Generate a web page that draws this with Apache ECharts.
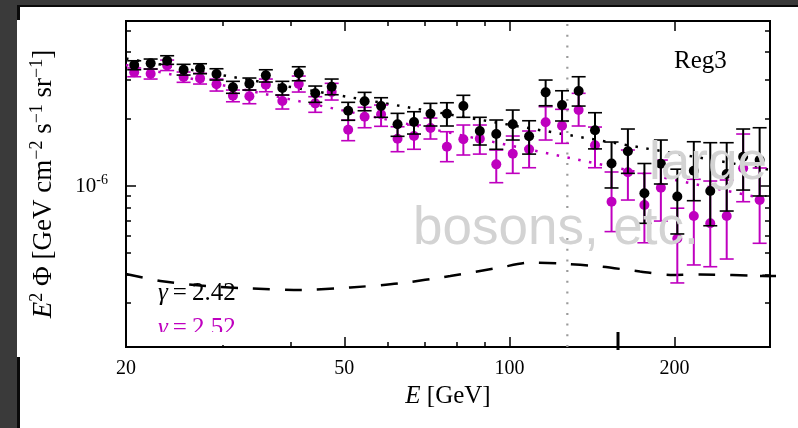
<!DOCTYPE html>
<html>
<head>
<meta charset="utf-8">
<script src="https://cdn.jsdelivr.net/npm/echarts@6/dist/echarts.min.js"></script>
<style>
  html, body { margin: 0; padding: 0; background: #fff; }
  #chart { width: 798px; height: 428px; }
</style>
</head>
<body>
<div id="chart"></div>
<script>
// Flux values are given in units of 1e-6 GeV cm^-2 s^-1 sr^-1
const UNIT = 1e-6;

// Bin energies [GeV]
const energies = [20.70, 22.18, 23.77, 25.47, 27.29, 29.24, 31.33, 33.57, 35.97, 38.55,
  41.30, 44.26, 47.42, 50.82, 54.45, 58.34, 62.52, 66.99, 71.78, 76.91,
  82.41, 88.31, 94.62, 101.4, 108.6, 116.4, 124.7, 133.7, 143.2, 153.5,
  164.4, 176.2, 188.8, 202.3, 216.8, 232.3, 248.9, 266.7, 285.8];

// gamma = 2.42 spectrum (black)
const fluxA = [3.494, 3.556, 3.652, 3.328, 3.377, 3.184, 2.775, 2.880, 3.141, 2.754,
  3.207, 2.608, 2.792, 2.178, 2.401, 2.286, 1.893, 1.938, 2.112, 2.112,
  2.286, 1.766, 1.712, 1.893, 1.672, 2.634, 2.310, 2.670, 1.779, 1.262,
  1.433, 0.928, 1.259, 0.897, 1.171, 0.950, 1.132, 1.354, 1.308];
const lowA = [3.328, 3.353, 3.520, 3.150, 3.194, 2.992, 2.608, 2.698, 2.931, 2.562,
  2.970, 2.376, 2.570, 1.973, 2.178, 2.035, 1.672, 1.712, 1.860, 1.860,
  2.035, 1.528, 1.462, 1.609, 1.391, 2.294, 1.959, 2.286, 1.468, 0.980,
  1.140, 0.680, 1.021, 0.609, 0.859, 0.663, 0.772, 0.959, 0.902];
const highA = [3.652, 3.718, 3.847, 3.520, 3.541, 3.363, 2.952, 3.055, 3.328, 2.952,
  3.433, 2.812, 3.023, 2.376, 2.634, 2.492, 2.120, 2.156, 2.351, 2.366,
  2.555, 2.035, 1.979, 2.194, 1.964, 2.992, 2.678, 3.096, 2.134, 1.576,
  1.803, 1.262, 1.609, 1.190, 1.581, 1.565, 1.565, 1.803, 1.827];

// gamma = 2.52 spectrum (magenta)
const fluxB = [3.240, 3.194, 3.477, 3.085, 3.044, 2.862, 2.544, 2.528, 2.850, 2.408,
  2.871, 2.351, 2.643, 1.790, 2.048, 2.099, 1.631, 1.677, 1.821, 1.501,
  1.621, 1.631, 1.251, 1.396, 1.462, 1.932, 1.866, 2.194, 1.523, 0.850,
  1.152, 0.822, 0.983, 0.581, 0.733, 0.680, 0.733, 1.201, 0.865];
const lowB = [3.096, 3.023, 3.301, 2.922, 2.871, 2.670, 2.390, 2.342, 2.651, 2.217,
  2.643, 2.143, 2.433, 1.598, 1.827, 1.854, 1.426, 1.462, 1.626, 1.286,
  1.378, 1.391, 1.035, 1.140, 1.208, 1.609, 1.555, 1.860, 1.208, 0.624,
  0.865, 0.556, 0.696, 0.367, 0.442, 0.434, 0.470, 0.850, 0.553];
const highB = [3.390, 3.353, 3.679, 3.250, 3.207, 3.023, 2.698, 2.698, 3.023, 2.562,
  3.118, 2.518, 2.892, 1.979, 2.257, 2.310, 1.846, 1.879, 2.020, 1.753,
  1.879, 1.879, 1.451, 1.677, 1.766, 2.271, 2.210, 2.608, 1.840, 1.156,
  1.451, 1.140, 1.308, 0.795, 1.072, 1.053, 1.064, 1.712, 1.205];

// Power-law fits (end points)
const fitEnergies = [20, 298.5];
const fitA = [3.737, 1.182];
const fitB = [3.494, 0.867];

// Background model (dashed)
const bgEnergies = [20.0, 23.1, 27.3, 33.7, 41.6, 51.3, 63.2, 78.0, 96.2, 109.1,
  123.7, 146.3, 173.0, 196.3, 222.6, 298.5];
const bgFlux = [0.4026, 0.3746, 0.3574, 0.3465, 0.3411, 0.3501, 0.3657, 0.3944, 0.4306, 0.4533,
  0.4487, 0.4350, 0.4131, 0.3985, 0.4005, 0.3944];

// Line energy marker [GeV]
const lineEnergy = 127.5;

// Axis ranges and ticks
const xRange = [20, 298.5];
const yRange = [0.1892 * UNIT, 5.51 * UNIT];
const xMajor = [20, 50, 100, 200];
const xMinor = [30, 40, 60, 70, 80, 90];
const yMajor = [1e-6];
const yMinor = [3e-7, 4e-7, 5e-7, 6e-7, 7e-7, 8e-7, 9e-7, 2e-6, 3e-6, 4e-6, 5e-6];

const legendA = 'γ=2.42';
const legendB = 'γ=2.52';
const regionLabel = 'Reg3';
const overlayLines = ['large', 'bosons, etc.'];

const BLACK = '#000000';
const MAGENTA = '#bf00bf';
const SERIF = '"Liberation Serif", "DejaVu Serif", serif';
const SANS = '"Liberation Sans", Arial, sans-serif';

const chart = echarts.init(document.getElementById('chart'), null, { renderer: 'canvas' });

function xAxisDef(position, ticks, len, withLabels) {
  return {
    type: 'log', logBase: 10, position: position,
    min: xRange[0], max: xRange[1],
    axisLine: { show: false, onZero: false },
    splitLine: { show: false },
    minorTick: { show: false },
    axisTick: { show: true, inside: true, length: len, customValues: ticks,
      lineStyle: { color: BLACK, width: 1.5 } },
    axisLabel: withLabels ? {
      show: true, customValues: xMajor, margin: 12,
      formatter: v => String(Math.round(v)),
      fontFamily: SERIF, fontSize: 20, color: BLACK
    } : { show: false },
    name: withLabels ? '{it|E} [GeV]' : '',
    nameLocation: 'middle', nameGap: 36,
    nameTextStyle: { fontFamily: SERIF, fontSize: 25, color: BLACK,
      rich: { it: { fontFamily: SERIF, fontSize: 25, fontStyle: 'italic', color: BLACK } } }
  };
}

function yAxisDef(position, ticks, len, withLabels) {
  return {
    type: 'log', logBase: 10, position: position,
    min: yRange[0], max: yRange[1],
    axisLine: { show: false, onZero: false },
    splitLine: { show: false },
    minorTick: { show: false },
    axisTick: { show: true, inside: true, length: len, customValues: ticks,
      lineStyle: { color: BLACK, width: 1.5 } },
    axisLabel: withLabels ? {
      show: true, customValues: yMajor, margin: 18,
      formatter: v => '10{s|' + String(Math.round(Math.log10(v))) + '}',
      fontFamily: SERIF, fontSize: 21, color: BLACK, lineHeight: 26,
      rich: { s: { fontFamily: SERIF, fontSize: 14, verticalAlign: 'top', color: BLACK } }
    } : { show: false },
    name: withLabels ? '{it|E}{sup|2} Φ [GeV cm{sup|−2} s{sup|−1} sr{sup|−1}]' : '',
    nameLocation: 'middle', nameRotate: 90, nameGap: 66,
    nameTextStyle: { fontFamily: SERIF, fontSize: 27, color: BLACK, lineHeight: 32,
      rich: {
        it: { fontFamily: SERIF, fontSize: 27, fontStyle: 'italic', color: BLACK, lineHeight: 32 },
        sup: { fontFamily: SERIF, fontSize: 18, verticalAlign: 'top', color: BLACK }
      } }
  };
}

function errorBars(color, capHalf) {
  return function (params, api) {
    const e = api.value(0);
    const lo = api.coord([e, api.value(1)]);
    const hi = api.coord([e, api.value(2)]);
    return {
      type: 'group',
      children: [
        { type: 'line', shape: { x1: lo[0], y1: lo[1], x2: hi[0], y2: hi[1] },
          style: { stroke: color, lineWidth: 2 } },
        { type: 'line', shape: { x1: lo[0] - capHalf, y1: lo[1], x2: lo[0] + capHalf, y2: lo[1] },
          style: { stroke: color, lineWidth: 1.6 } },
        { type: 'line', shape: { x1: hi[0] - capHalf, y1: hi[1], x2: hi[0] + capHalf, y2: hi[1] },
          style: { stroke: color, lineWidth: 1.6 } }
      ]
    };
  };
}

const barsA = energies.map((e, i) => [e, lowA[i] * UNIT, highA[i] * UNIT]);
const barsB = energies.map((e, i) => [e, lowB[i] * UNIT, highB[i] * UNIT]);
const ptsA = energies.map((e, i) => [e, fluxA[i] * UNIT]);
const ptsB = energies.map((e, i) => [e, fluxB[i] * UNIT]);
const fitLineA = fitEnergies.map((e, i) => [e, fitA[i] * UNIT]);
const fitLineB = fitEnergies.map((e, i) => [e, fitB[i] * UNIT]);
const bgLine = bgEnergies.map((e, i) => [e, bgFlux[i] * UNIT]);
const markerLine = [[lineEnergy, yRange[0]], [lineEnergy, yRange[1]]];

const option = {
  animation: false,
  backgroundColor: '#ffffff',
  grid: { left: 126, top: 21, width: 644, height: 326, show: true,
    borderColor: BLACK, borderWidth: 2, backgroundColor: 'transparent',
    containLabel: false, outerBoundsMode: 'none' },
  xAxis: [
    xAxisDef('bottom', xMajor, 10, true),
    xAxisDef('bottom', xMinor, 5, false),
    xAxisDef('top', xMajor, 10, false),
    xAxisDef('top', xMinor, 5, false)
  ],
  yAxis: [
    yAxisDef('left', yMajor, 10, true),
    yAxisDef('left', yMinor, 5, false),
    yAxisDef('right', yMajor, 10, false),
    yAxisDef('right', yMinor, 5, false)
  ],
  series: [
    { type: 'line', data: markerLine, showSymbol: false, silent: true, z: 1,
      lineStyle: { color: '#9a9a9a', width: 2.2, type: [2, 8.7] } },
    { type: 'line', data: bgLine, showSymbol: false, smooth: 0.25, silent: true, z: 2,
      lineStyle: { color: BLACK, width: 2.5, type: [17, 15] } },
    { type: 'line', data: fitLineB, showSymbol: false, silent: true, z: 2,
      lineStyle: { color: MAGENTA, width: 2.5, type: [2.5, 8.5] } },
    { type: 'line', data: fitLineA, showSymbol: false, silent: true, z: 2,
      lineStyle: { color: BLACK, width: 2.5, type: [2.5, 8.5] } },
    { type: 'custom', data: barsB, renderItem: errorBars(MAGENTA, 7), z: 3,
      encode: { x: 0, y: [1, 2] }, silent: true },
    { type: 'scatter', data: ptsB, symbol: 'circle', symbolSize: 10, z: 4,
      itemStyle: { color: MAGENTA, opacity: 1 }, silent: true },
    { type: 'custom', data: barsA, renderItem: errorBars(BLACK, 7), z: 5,
      encode: { x: 0, y: [1, 2] }, silent: true },
    { type: 'scatter', data: ptsA, symbol: 'circle', symbolSize: 10, z: 6,
      itemStyle: { color: BLACK, opacity: 1 }, silent: true }
  ],
  graphic: [
    { type: 'text', z: 50, left: 674, top: 49,
      style: { text: regionLabel, font: '25px ' + SERIF, fill: BLACK } },
    { type: 'text', z: 50, x: 158, y: 293,
      style: { text: '{i|γ}\u2009=\u2009' + legendA.split('=')[1], font: '25px ' + SERIF,
        fill: BLACK, verticalAlign: 'middle',
        rich: { i: { fontStyle: 'italic', fontFamily: SERIF, fontSize: 25, fill: BLACK } } } },
    { type: 'text', z: 50, x: 158, y: 328,
      style: { text: '{i|γ}\u2009=\u2009' + legendB.split('=')[1], font: '25px ' + SERIF,
        fill: MAGENTA, verticalAlign: 'middle',
        rich: { i: { fontStyle: 'italic', fontFamily: SERIF, fontSize: 25, fill: MAGENTA } } } },
    { type: 'rect', z: 51, shape: { x: 150, y: 332, width: 100, height: 13 },
      style: { fill: '#ffffff' } },
    { type: 'text', z: 60, x: 649, y: 164.6,
      style: { text: overlayLines[0], font: '53px ' + SANS, fill: '#d3d3d3', verticalAlign: 'middle' } },
    { type: 'text', z: 60, x: 413, y: 229,
      style: { text: overlayLines[1], font: '53px ' + SANS, fill: '#d3d3d3', verticalAlign: 'middle' } },
    // stray marks at the frame edges
    { type: 'line', z: 55, shape: { x1: 618, y1: 332, x2: 618, y2: 350 },
      style: { stroke: BLACK, lineWidth: 3 } },
    { type: 'line', z: 55, shape: { x1: 760, y1: 276, x2: 776, y2: 276 },
      style: { stroke: BLACK, lineWidth: 2.5 } },
    // dark window border
    { type: 'rect', z: 70, shape: { x: 0, y: 0, width: 798, height: 5 }, style: { fill: '#3a3a3a' } },
    { type: 'rect', z: 70, shape: { x: 0, y: 0, width: 17, height: 428 }, style: { fill: '#3a3a3a' } },
    { type: 'rect', z: 70, shape: { x: 17, y: 5, width: 781, height: 2 }, style: { fill: '#0a0a0a' } },
    { type: 'rect', z: 70, shape: { x: 17, y: 5, width: 3, height: 15 }, style: { fill: '#0a0a0a' } },
    { type: 'rect', z: 70, shape: { x: 17, y: 357, width: 3, height: 71 }, style: { fill: '#0a0a0a' } }
  ]
};

chart.setOption(option);
</script>
</body>
</html>
